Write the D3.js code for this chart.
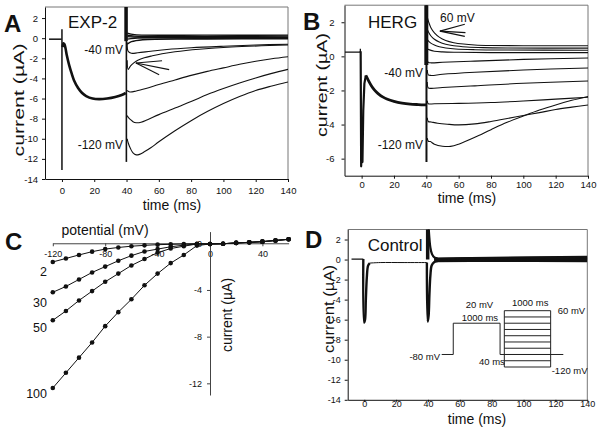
<!DOCTYPE html>
<html><head><meta charset="utf-8">
<script src="https://cdn.jsdelivr.net/npm/d3@7"></script>
<style>
body{margin:0;background:#fff}
svg{display:block}
text{font-family:'Liberation Sans',Arial,Helvetica,sans-serif;fill:#111}
</style>
</head><body>
<svg id="c" width="601" height="437"></svg>
<script>
// ---------- tick values ----------
const timeTicks = [0,20,40,60,80,100,120,140];
const yTicksA = [2,0,-2,-4,-6,-8,-10,-12,-14];
const yTicksB = [2,0,-2,-4,-6];
const yTicksD = [2,0,-2,-4,-6,-8,-10,-12,-14];
const potTicksC = [-120,-80,-40,0,40];
const curTicksC = [0,-4,-8,-12];

// ---------- Panel A (EXP-2) traces [time ms, current uA] ----------
const aPre = [[-8,-0.1],[-0.2,-0.1]];
const aSpike0 = [[0,0.9],[0,-13.1]];
const aPrepulse = [[0.4,-0.9],[0.9,-0.5],[1.5,-0.6],[2.2,-1.0],[3,-1.7],[4.5,-2.7],[6,-3.5],[7.5,-4.2],[10,-4.95],[12.5,-5.45],[15,-5.75],[19,-6.0],[23,-6.06],[28,-6.0],[33,-5.85],[37,-5.65],[39.5,-5.45]];
const aSpike40Thick = [[39.7,3.6],[39.7,-0.3]];
const aSpike40 = [[39.9,3.6],[39.9,-12.3]];
const aBand = [
  [[40.5,0.5],[45,0.35],[90,0.3],[140,0.3]],
  [[40.5,0.3],[45,0.2],[90,0.18],[140,0.2]],
  [[40.5,0.15],[45,0.1],[90,0.08],[140,0.1]],
  [[40.5,-0.1],[45,0.0],[90,0.0],[140,0.02]],
  [[40.4,-0.6],[43,-0.35],[50,-0.15],[90,-0.08],[140,-0.05]]
];
const aM40 = [[40.4,-0.4],[41,-1.3],[43,-1.5],[47,-1.45],[55,-1.3],[65,-1.12],[80,-0.95],[100,-0.8],[120,-0.68],[140,-0.6]];
const aArrowTrace = [[40.4,-2.2],[41,-3.1],[42.5,-2.75],[44.5,-2.45],[47,-2.2],[51,-1.95],[56,-1.75],[62,-1.55],[70,-1.35],[85,-1.1],[105,-0.88],[140,-0.68]];
const aMid = [[40.4,-5.2],[42,-5.35],[46,-5.25],[52,-5.0],[60,-4.6],[70,-4.15],[80,-3.7],[90,-3.3],[100,-2.95],[110,-2.6],[120,-2.3],[130,-2.05],[140,-1.85]];
const aM100 = [[40.4,-7.7],[41.2,-7.9],[42.5,-8.1],[44,-8.3],[46,-8.4],[49,-8.35],[53,-8.1],[60,-7.6],[70,-6.95],[80,-6.3],[90,-5.6],[100,-5.0],[110,-4.45],[120,-3.95],[130,-3.5],[140,-3.1]];
const aM120 = [[40.4,-10.0],[41,-10.4],[42.5,-11.0],[44,-11.4],[46,-11.6],[48,-11.55],[51,-11.3],[55,-10.9],[60,-10.3],[70,-9.2],[80,-8.2],[90,-7.3],[100,-6.5],[110,-5.8],[120,-5.2],[130,-4.75],[140,-4.35]];
const aArrow = [[45.8,-2.47],[62,-2.24],[66.4,-3.13],[60.2,-3.63]];

// ---------- Panel B (HERG) traces ----------
const bPre = [[-10.3,0.25],[-0.8,0.25],[-0.8,0.45]];
const bSpike0 = [[-0.6,0.3],[-0.3,-6.45],[0.2,-4.5],[0.5,-6.2],[1.0,-3.2],[1.7,-1.6],[2.6,-1.12]];
const bPrepulse = [[2.6,-1.12],[4,-1.38],[6,-1.72],[8,-1.98],[10,-2.17],[13,-2.38],[16,-2.52],[20,-2.64],[25,-2.74],[30,-2.8],[35,-2.83],[39.8,-2.85]];
const bSpike40Thick = [[40,3.6],[40,-0.5]];
const bSpike40 = [[40.1,3.6],[40.1,-6.2]];
const bP60 = [[40.6,2.3],[41.5,2.0],[43,1.65],[45,1.38],[48,1.13],[52,0.93],[57,0.8],[63,0.72],[70,0.67],[80,0.64],[100,0.62],[140,0.62]];
const bP40 = [[40.6,1.6],[41.5,1.4],[43,1.18],[45,1.0],[48,0.84],[52,0.71],[57,0.62],[65,0.55],[75,0.51],[90,0.49],[140,0.48]];
const bP20 = [[40.6,1.0],[41.5,0.88],[43,0.76],[45,0.66],[48,0.56],[52,0.49],[58,0.43],[70,0.39],[90,0.37],[140,0.36]];
const bP0 = [[40.6,0.45],[42,0.38],[45,0.3],[50,0.26],[60,0.24],[80,0.22],[140,0.22]];
const bM20 = [[40.6,-0.2],[41.2,-0.35],[43,-0.38],[50,-0.35],[70,-0.28],[100,-0.18],[140,-0.1]];
const bM40 = [[40.6,-0.8],[41.2,-1.08],[43,-1.12],[50,-1.05],[70,-0.93],[100,-0.8],[140,-0.68]];
const bM60 = [[40.6,-1.5],[41.2,-1.85],[43,-1.88],[50,-1.83],[70,-1.73],[100,-1.58],[140,-1.45]];
const bM80 = [[40.6,-2.6],[41.2,-2.78],[45,-2.78],[60,-2.76],[80,-2.71],[100,-2.62],[120,-2.51],[140,-2.4]];
const bM100 = [[40.6,-3.6],[41.2,-3.82],[43,-3.85],[47,-3.92],[53,-3.98],[60,-4.02],[70,-3.96],[80,-3.82],[90,-3.65],[100,-3.47],[110,-3.3],[120,-3.12],[130,-2.98],[140,-2.85]];
const bM120 = [[40.6,-4.8],[41.2,-4.98],[42.5,-5.0],[45,-5.15],[50,-5.27],[55,-5.28],[60,-5.15],[70,-4.75],[80,-4.3],[90,-3.87],[100,-3.5],[110,-3.15],[120,-2.85],[130,-2.58],[140,-2.35]];
const bArrow = [[48.4,1.48],[63.8,1.88],[64.2,1.39],[63.8,1.17]];

// ---------- Panel C (I-V) ----------
const potentials = [-120,-110,-100,-90,-80,-70,-60,-50,-40,-30,-20,-10,0,10,20,30,40,50,60];
const iv2   = [-1.6,-1.3,-1.0,-0.72,-0.5,-0.36,-0.25,-0.18,-0.12,-0.09,-0.06,-0.04,-0.06,-0.04,0.03,0.08,0.14,0.24,0.34];
const iv30  = [-4.2,-3.7,-3.1,-2.5,-2.0,-1.5,-1.06,-0.7,-0.5,-0.3,-0.16,-0.06,-0.06,-0.04,0.03,0.08,0.14,0.24,0.34];
const iv50  = [-6.6,-5.8,-4.9,-4.1,-3.3,-2.6,-1.9,-1.35,-0.8,-0.45,-0.25,-0.06,-0.06,-0.04,0.03,0.08,0.14,0.24,0.34];
const iv100 = [-12.4,-11.1,-9.8,-8.5,-7.1,-5.9,-4.8,-3.6,-2.6,-1.7,-1.0,-0.2,-0.06,-0.04,0.03,0.08,0.14,0.24,0.34];
const ivNames = ["2","30","50","100"];

// ---------- Panel D (Control) ----------
const dPre = [[-8,0.05],[-0.6,0.05]];
const dSpike0 = [[-0.6,0.05],[-0.1,-6.3],[0.5,-6.0],[1.0,-4.0],[1.6,-1.8],[2.4,-0.6],[3.5,-0.35]];
const dPrepulse = [[3.5,-0.35],[10,-0.3],[25,-0.3],[39.3,-0.3]];
const dSpike40UpBar = [[39.8,3.6],[39.8,0]];
const dSpike40Up = [[40.3,3.6],[40.8,2.3],[41.5,1.2],[42.5,0.55],[44,0.22],[46,0.12]];
const dSpike40Down = [[39.3,-0.3],[39.8,-6.2],[40.4,-5.6],[40.9,-3.5],[41.5,-1.6],[42.3,-0.6],[44,-0.25],[46,-0.15]];
const dBand = [
  [[44,-0.2],[80,-0.18],[140,-0.2]],
  [[44,-0.15],[80,-0.12],[140,-0.12]],
  [[44,-0.1],[80,-0.06],[140,-0.05]],
  [[44,-0.05],[80,0],[140,0.02]],
  [[44,0],[80,0.05],[140,0.08]],
  [[44,0.03],[80,0.1],[140,0.14]],
  [[44,0.06],[80,0.14],[140,0.2]],
  [[44,0.1],[80,0.18],[140,0.26]],
  [[44,0.13],[80,0.22],[140,0.32]]
];
// voltage protocol inset (schematic time units, mV)
const protoHold = [[0,-80],[9.5,-80],[9.5,20],[48,20],[48,-80],[100,-80]];
const stepLevels = [60,40,20,0,-20,-40,-60,-80,-100,-120];
const stepSpan = [51.5,89.6];

// ---------- drawing ----------
const svg = d3.select('#c');
const smooth = d3.curveCatmullRom.alpha(0.5);

function addClip(id, x0, y0, x1, y1){
  svg.append('clipPath').attr('id', id).append('rect')
    .attr('x', x0).attr('y', y0).attr('width', x1-x0).attr('height', y1-y0);
}
function trace(g, xs, ys, data, w, curve){
  const line = d3.line().x(d=>xs(d[0])).y(d=>ys(d[1])).curve(curve||d3.curveLinear);
  g.append('path').attr('d', line(data)).attr('fill','none')
    .attr('stroke','#111').attr('stroke-width', w).attr('stroke-linejoin','round');
}
function frame(xs, ys, xTicks, yTicks, yPad, xPad, xTick, fs, id){
  const [x0,x1] = xs.range(); const [y1,y0] = ys.range();
  svg.append('line').attr('x1',x0).attr('x2',x1).attr('y1',y0).attr('y2',y0).attr('stroke','#777').attr('stroke-width',1);
  svg.append('line').attr('x1',x1).attr('x2',x1).attr('y1',y0).attr('y2',y1).attr('stroke','#777').attr('stroke-width',1);
  const gx = svg.append('g').attr('transform',`translate(0,${y1})`)
    .call(d3.axisBottom(xs).tickValues(xTicks).tickSize(xTick).tickSizeOuter(0).tickPadding(xPad));
  const gy = svg.append('g').attr('transform',`translate(${x0},0)`)
    .call(d3.axisLeft(ys).tickValues(yTicks).tickSize(3).tickSizeOuter(0).tickPadding(yPad));
  [gx,gy].forEach(g=>{
    g.selectAll('text').style('font-size',fs+'px').attr('fill','#222').text(d=>String(d));
    g.select('.domain').attr('stroke','#111');
    g.selectAll('line').attr('stroke','#111');
  });
  addClip(id, x0, y0, x1, y1);
  return svg.append('g').attr('clip-path',`url(#${id})`);
}
function label(x, y, txt, size, opts={}){
  const t = svg.append('text').attr('x',x).attr('y',y).text(txt).style('font-size',size+'px');
  if(opts.anchor) t.attr('text-anchor',opts.anchor);
  if(opts.bold) t.style('font-weight','bold');
  if(opts.rot){ t.attr('transform',`rotate(-90,${x},${y})`).attr('text-anchor','middle'); }
  if(opts.len){ t.attr('textLength',opts.len).attr('lengthAdjust','spacingAndGlyphs'); }
  return t;
}

// ===== Panel A =====
const xA = d3.scaleLinear().domain([-10.5,140]).range([45,288]);
const yA = d3.scaleLinear().domain([-14,3.1]).range([179,7]);
const gA = frame(xA, yA, timeTicks, yTicksA, 4, 5, 3, 9.5, 'clipA');
trace(gA,xA,yA,aPre,1.5);
trace(gA,xA,yA,aSpike0,1.5);
trace(gA,xA,yA,aPrepulse,2.6,smooth);
trace(gA,xA,yA,aSpike40Thick,3.5);
trace(gA,xA,yA,aSpike40,1.6);
aBand.forEach(t=>trace(gA,xA,yA,t,1.4,smooth));
[aM40,aArrowTrace,aMid,aM100,aM120].forEach(t=>trace(gA,xA,yA,t,1.1,smooth));
[1,2,3].forEach(i=>trace(gA,xA,yA,[aArrow[0],aArrow[i]],1.1));
label(4,32,'A',24,{bold:true});
label(68,28,'EXP-2',17);
label(123,54,'-40 mV',12,{anchor:'end'});
label(123,149,'-120 mV',12,{anchor:'end'});
label(172,210,'time (ms)',14,{anchor:'middle'});
label(24,100,'current (µA)',15,{rot:true,len:113});

// ===== Panel B =====
const xB = d3.scaleLinear().domain([-10.6,140]).range([344.5,588]);
const yB = d3.scaleLinear().domain([-7,3]).range([175.7,5.2]);
const gB = frame(xB, yB, timeTicks, yTicksB, 7, 3, 3, 9.5, 'clipB');
trace(gB,xB,yB,bPre,1.3);
trace(gB,xB,yB,bSpike0,2.2);
trace(gB,xB,yB,bPrepulse,2.8,smooth);
trace(gB,xB,yB,bSpike40Thick,4);
trace(gB,xB,yB,bSpike40,2);
[bP60,bP40,bP20,bP0,bM20,bM40,bM60,bM80,bM100,bM120].forEach(t=>trace(gB,xB,yB,t,1.1,smooth));
[1,2,3].forEach(i=>trace(gB,xB,yB,[bArrow[0],bArrow[i]],1.1));
label(303,30,'B',24,{bold:true});
label(368,28,'HERG',17);
label(440,21.5,'60 mV',12);
label(423,77,'-40 mV',12,{anchor:'end'});
label(423,149,'-120 mV',12,{anchor:'end'});
label(467,203,'time (ms)',14,{anchor:'middle'});
label(327,85,'current (µA)',15,{rot:true,len:104});

// ===== Panel C =====
const xC = d3.scaleLinear().domain([-120,60]).range([52.8,288.6]);
const yC = d3.scaleLinear().domain([1,-13]).range([231.6,395]);
const gcx = svg.append('g').attr('transform',`translate(0,${yC(0)})`)
  .call(d3.axisBottom(xC).tickValues(potTicksC).tickSize(3).tickSizeOuter(0).tickPadding(4));
const gcy = svg.append('g').attr('transform',`translate(${xC(0)},0)`)
  .call(d3.axisLeft(yC).tickValues(curTicksC).tickSize(3).tickSizeOuter(0).tickPadding(5));
[gcx,gcy].forEach(g=>{
  g.selectAll('text').style('font-size','9px').attr('fill','#333').text(d=>String(d));
  g.select('.domain').attr('stroke','#444');
  g.selectAll('line').attr('stroke','#444');
});
const ivLabelDy = [14,14.5,12,10];
[iv2,iv30,iv50,iv100].forEach((vals,k)=>{
  const pts = potentials.map((v,i)=>[v,vals[i]]);
  trace(svg,xC,yC,pts,1);
  svg.append('g').selectAll('circle').data(pts).join('circle')
    .attr('cx',d=>xC(d[0])).attr('cy',d=>yC(d[1])).attr('r',2.3).attr('fill','#111');
  svg.append('text').attr('x',47).attr('y',yC(vals[0])+ivLabelDy[k]).attr('text-anchor','end')
    .style('font-size','12.5px').text(ivNames[k]);
});
label(5,250,'C',24,{bold:true});
label(105,235,'potential (mV)',14,{anchor:'middle'});
label(232,315,'current (µA)',14,{rot:true});

// ===== Panel D =====
const xD = d3.scaleLinear().domain([-10.4,140]).range([347.7,587.3]);
const yD = d3.scaleLinear().domain([-14,3]).range([399.8,229.5]);
const gD = frame(xD, yD, timeTicks, yTicksD, 4, -1, 2, 9, 'clipD');
trace(gD,xD,yD,dPre,1.2);
trace(gD,xD,yD,dSpike0,2.4,smooth);
trace(gD,xD,yD,dPrepulse,1,smooth);
trace(gD,xD,yD,dSpike40UpBar,3.5);
trace(gD,xD,yD,dSpike40Up,2.2,smooth);
trace(gD,xD,yD,dSpike40Down,2.4,smooth);
dBand.forEach(t=>trace(gD,xD,yD,t,1.3,smooth));
// protocol inset
const insX = d3.scaleLinear().domain([0,100]).range([441.7,563.3]);
const insY = d3.scaleLinear().domain([60,-120]).range([310.7,367]);
const insG = svg.append('g');
const pl = d3.line().x(d=>insX(d[0])).y(d=>insY(d[1]));
insG.append('path').attr('d',pl(protoHold)).attr('fill','none').attr('stroke','#222').attr('stroke-width',1);
stepLevels.forEach(v=>insG.append('path').attr('d',pl([[stepSpan[0],v],[stepSpan[1],v]])).attr('stroke','#222').attr('stroke-width',1));
stepSpan.forEach(s=>insG.append('path').attr('d',pl([[s,stepLevels[0]],[s,stepLevels[stepLevels.length-1]]])).attr('stroke','#222').attr('stroke-width',1));
label(440,360,'-80 mV',9.5,{anchor:'end'});
label(465.7,308,'20 mV',9.5);
label(461.7,321,'1000 ms',9.5);
label(512,306,'1000 ms',9.5);
label(557.7,313.5,'60 mV',9.5);
label(479,365,'40 ms',9.5);
label(551.7,373.5,'-120 mV',9.5);
label(305,248,'D',24,{bold:true});
label(367.7,251,'Control',17);
label(477,424,'time (ms)',14,{anchor:'middle'});
label(334,309,'current (µA)',15,{rot:true,len:88});
</script>
</body></html>
